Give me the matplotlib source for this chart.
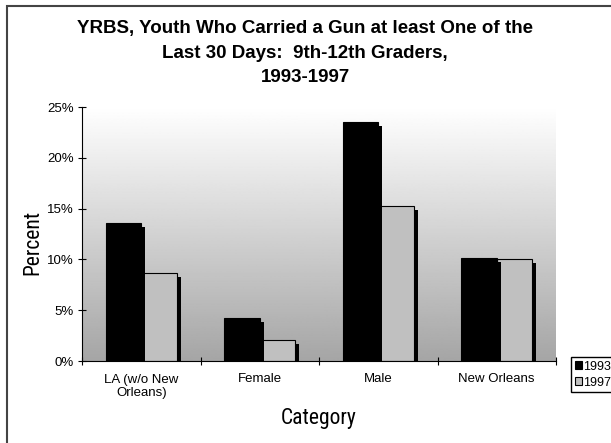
import numpy as np
import matplotlib
matplotlib.use('Agg')
from matplotlib import pyplot as plt
from matplotlib import patheffects as pe
from matplotlib.patches import Rectangle

categories = ['LA (w/o New\nOrleans)', 'Female', 'Male', 'New Orleans']
years = ['1993', '1997']
pct_1993 = [13.6, 4.2, 23.5, 10.1]
pct_1997 = [8.7, 2.1, 15.3, 10.0]
y_ticks = [0, 5, 10, 15, 20, 25]

W, H, DPI = 611, 443, 100
plt.rcParams['font.family'] = ['Liberation Sans', 'DejaVu Sans']

fig = plt.figure(figsize=(W / DPI, H / DPI), dpi=DPI)
ax = fig.add_axes([82 / W, 1 - 361 / H, 474 / W, 254 / H])

# grey gradient behind the bars, white at the top
grad = np.linspace(165, 255, 256).reshape(-1, 1) / 255
ax.imshow(grad, cmap='gray', vmin=0, vmax=1, aspect='auto',
          extent=[0, 4, 0, 25], origin='lower', zorder=0)

x = np.arange(len(categories)) + 0.5
bw = 0.3
shadow = [pe.SimplePatchShadow(offset=(2.9, -2.9), shadow_rgbFace='black', alpha=1), pe.Normal()]
ax.bar(x - bw / 2, pct_1993, bw, color='black', edgecolor='black', lw=0.8,
       zorder=3, path_effects=shadow)
ax.bar(x + bw / 2, pct_1997, bw, color='#c0c0c0', edgecolor='black', lw=0.8,
       zorder=2, path_effects=shadow)

ax.set_xlim(0, 4)
ax.set_ylim(0, 25)
ax.set_yticks(y_ticks)
ax.set_yticklabels([f'{v}%' for v in y_ticks], fontsize=9.5)
ax.set_xticks(x)
ax.set_xticklabels(categories, fontsize=9.5, linespacing=1.2)
ax.set_xticks([0, 1, 2, 3, 4], minor=True)
ax.tick_params(axis='x', which='major', length=0, pad=9)
ax.tick_params(axis='x', which='minor', direction='inout', length=6, width=0.8)
ax.tick_params(axis='y', direction='inout', length=6, width=0.8, pad=3)
for s in ['top', 'right']:
    ax.spines[s].set_visible(False)
for s in ['left', 'bottom']:
    ax.spines[s].set_linewidth(0.8)

narrow = ['Roboto Condensed', 'Liberation Sans Narrow', 'Open Sans Condensed', 'Liberation Sans']
ax.set_ylabel('Percent', fontsize=15.5, family=narrow)
ax.set_xlabel('Category', fontsize=15.5, family=narrow, labelpad=6)
ax.yaxis.set_label_coords(-0.082, 0.465)

fig.text(305 / W, 1 - 53 / H,
         'YRBS, Youth Who Carried a Gun at least One of the\nLast 30 Days:  9th-12th Graders,\n1993-1997',
         ha='center', va='center', fontsize=13.5, fontweight='bold', linespacing=1.6)

handles = [Rectangle((0, 0), 1, 1, facecolor='black', edgecolor='black', lw=0.8),
           Rectangle((0, 0), 1, 1, facecolor='#c0c0c0', edgecolor='black', lw=0.8)]
fig.legend(handles, years, loc='upper left', bbox_to_anchor=(571 / W, 1 - 357 / H),
           fontsize=9, frameon=True, fancybox=False,
           edgecolor='black', framealpha=1, borderpad=0.3, handlelength=0.6,
           handleheight=0.6, handletextpad=0.1, labelspacing=0.3, borderaxespad=0)

# outer chart frame
fig.patches.append(Rectangle((7 / W, -0.1), 1.2, 1 - 6 / H + 0.1, transform=fig.transFigure,
                             fill=False, edgecolor='#444444', lw=1.5))

fig.savefig('out.png', dpi=DPI)
